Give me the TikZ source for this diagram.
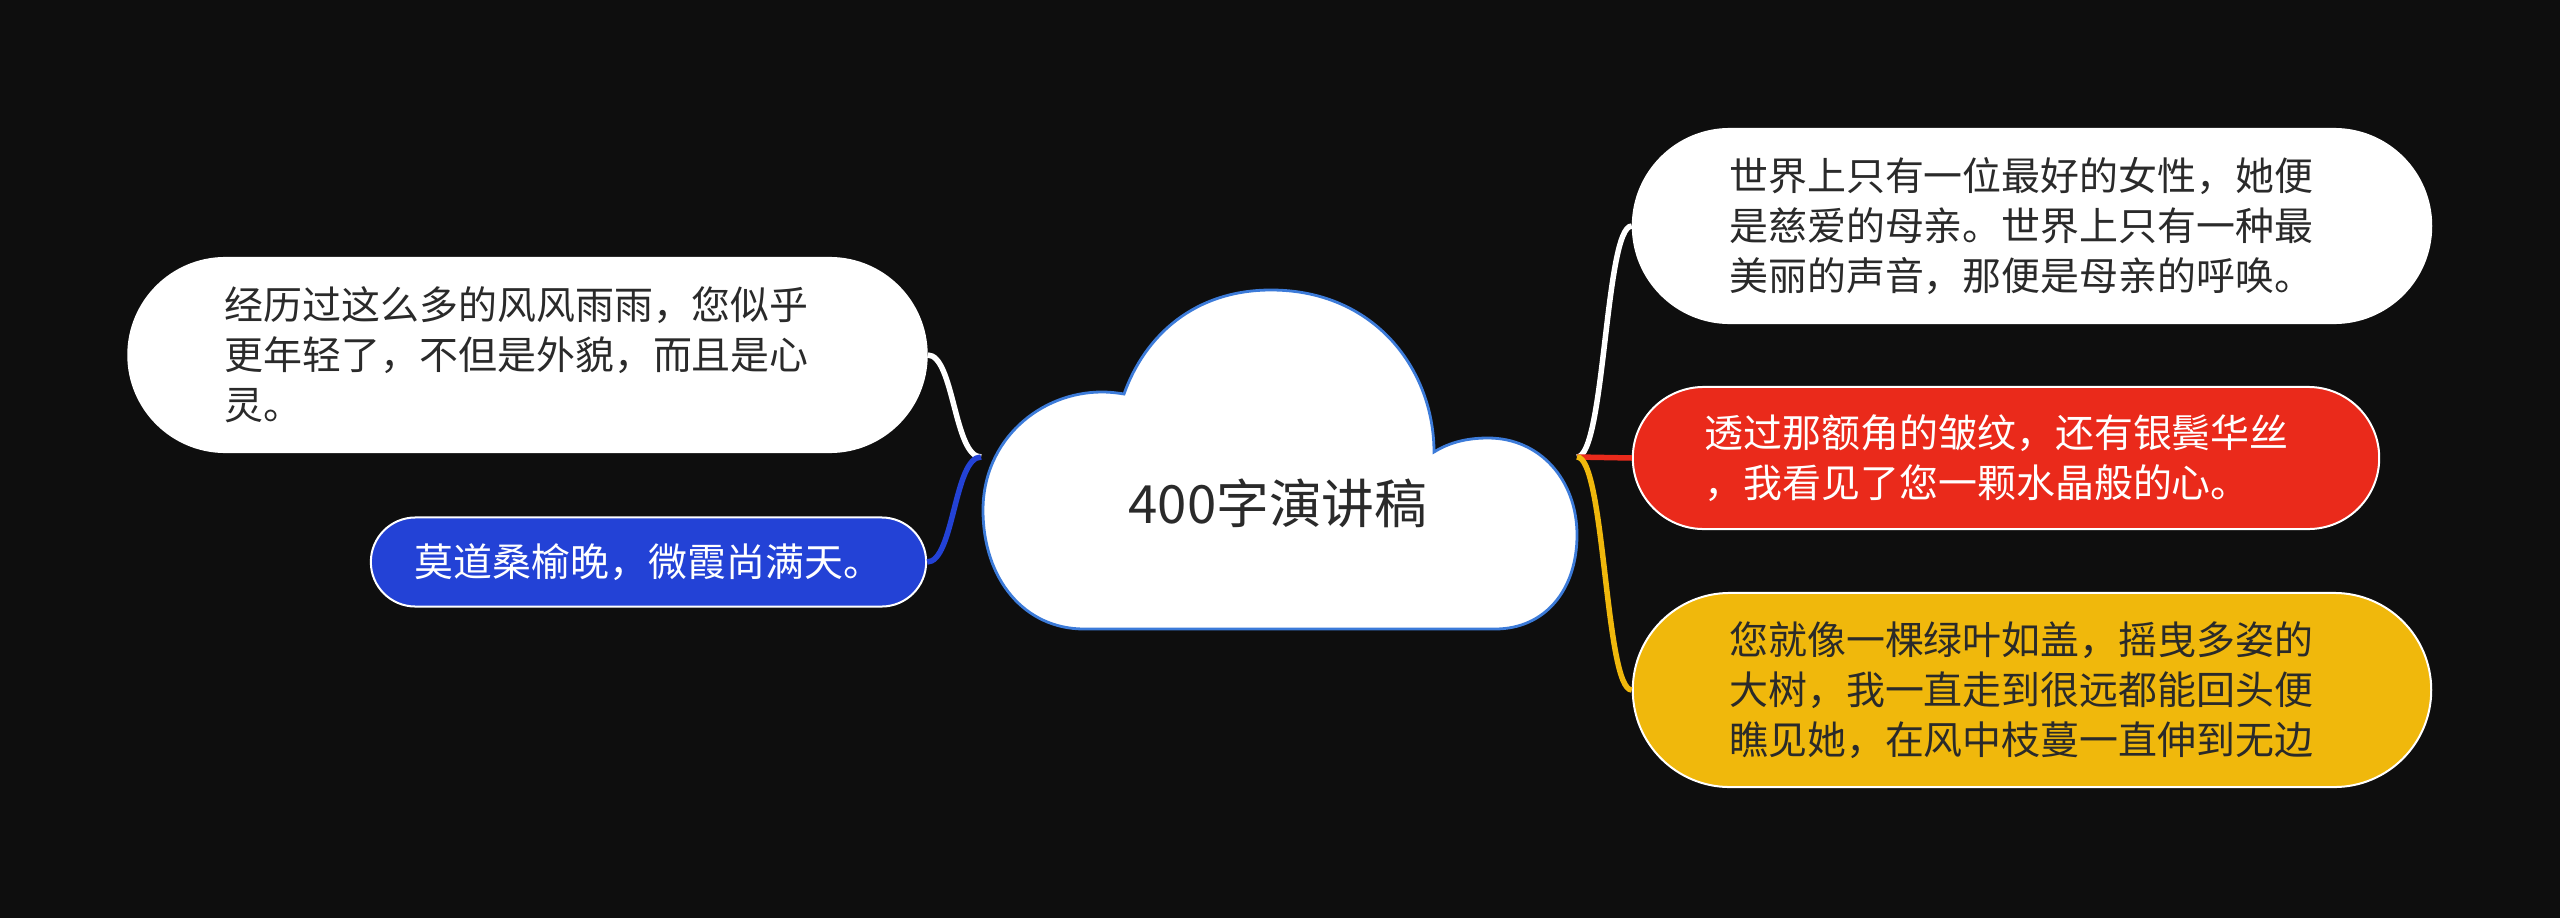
\documentclass[tikz,border=0pt]{standalone}
\usepackage{fontspec}
\newfontfamily\cjk{Noto Sans CJK SC}
\definecolor{bg}{HTML}{0E0E0E}
\definecolor{ink}{HTML}{2A2A2A}
\definecolor{cblue}{HTML}{2342D6}
\definecolor{cred}{HTML}{EA2A1B}
\definecolor{cyel}{HTML}{F0B80C}
\definecolor{cloudline}{HTML}{3C7BD9}
\begin{document}
\begin{tikzpicture}[x=0.01cm,y=-0.01cm,
  box/.style={draw=white, line width=0.02cm, inner sep=0pt, font=\cjk\fontsize{11.07pt}{14.23pt}\selectfont},
  bigbox/.style={box, minimum width=7.98cm, minimum height=1.94cm, rounded corners=0.97cm, text width=6.05cm, align=left},
  link/.style={line width=0.055cm},
]
\fill[bg] (0,0) rectangle (2560,918);
\useasboundingbox (0,0) rectangle (2560,918);

% junctions
\coordinate (jl) at (981,457);
\coordinate (jr) at (1577,457);

% branch nodes
\node[bigbox, fill=white, text=ink] (L1) at (527.5,355)
  {经历过这么多的风风雨雨，您似乎\\更年轻了，不但是外貌，而且是心\\灵。};
\node[box, fill=cblue, text=white, minimum width=5.55cm, minimum height=0.89cm, rounded corners=0.445cm] (L2) at (648.5,562)
  {莫道桑榆晚，微霞尚满天。};
\node[bigbox, fill=white, text=ink] (R1) at (2032,226)
  {世界上只有一位最好的女性，她便\\是慈爱的母亲。世界上只有一种最\\美丽的声音，那便是母亲的呼唤。};
\node[box, fill=cred, text=white, minimum width=7.46cm, minimum height=1.42cm, rounded corners=0.71cm, text width=6.02cm, align=left] (R2) at (2006,458)
  {透过那额角的皱纹，还有银鬓华丝\\，我看见了您一颗水晶般的心。};
\node[bigbox, fill=cyel, text=ink] (R3) at (2032,690)
  {您就像一棵绿叶如盖，摇曳多姿的\\大树，我一直走到很远都能回头便\\瞧见她，在风中枝蔓一直伸到无边};

% connectors
\draw[link, white] (jl) .. controls (954,457) and (954,355) .. (L1.east);
\draw[link, cblue] (jl) .. controls (954,457) and (954,562) .. (L2.east);
\draw[link, white] (jr) .. controls (1605,457) and (1605,226) .. (R1.west);
\draw[link, cred] (jr) -- (R2.west);
\draw[link, cyel] (jr) .. controls (1605,457) and (1605,690) .. (R3.west);

% cloud
\draw[cloudline, fill=white, line width=0.028cm]
  (1084,629) .. controls (1025,629) and (983,580) .. (983,510)
  .. controls (983,440) and (1040,392) .. (1102,392)
  .. controls (1110,392) and (1118,393) .. (1124,394)
  .. controls (1145,335) and (1195,290) .. (1271,290)
  .. controls (1375,290) and (1434,370) .. (1434,452)
  .. controls (1450,442) and (1468,438) .. (1488,438)
  .. controls (1540,438) and (1577,480) .. (1577,535)
  .. controls (1577,590) and (1545,629) .. (1495,629)
  -- cycle;
\node[font=\cjk\fontsize{15pt}{18pt}\selectfont, text=ink] (root) at (1278,503) {400字演讲稿};
\end{tikzpicture}
\end{document}
